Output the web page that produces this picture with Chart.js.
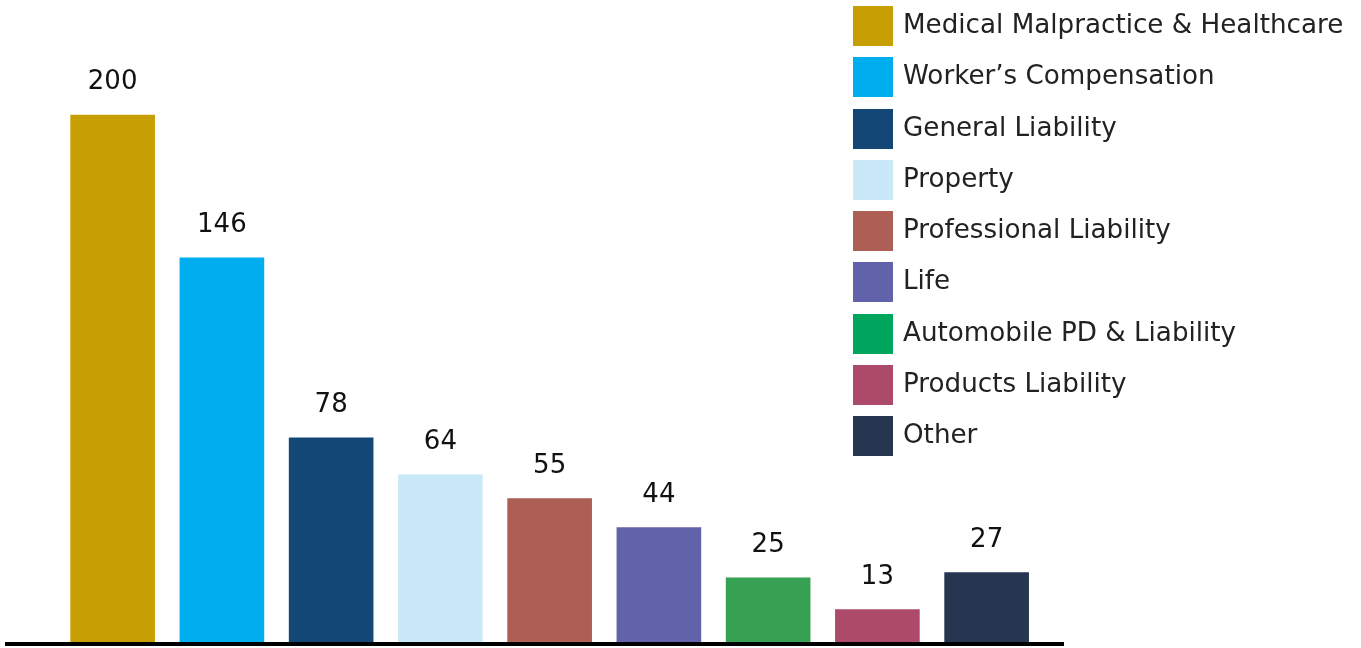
<!DOCTYPE html>
<html>
<head>
<meta charset="utf-8">
<script src="https://cdn.jsdelivr.net/npm/chart.js@4/dist/chart.umd.min.js"></script>
<style>
  html, body { margin: 0; padding: 0; background: #fff; }
  #wrap { position: relative; width: 1361px; height: 648px; }
  #legend {
    position: absolute; left: 853px; top: 6px;
    font-family: "DejaVu Sans", Verdana, sans-serif; font-size: 26.2px; color: #222;
  }
  .item { display: flex; align-items: center; height: 40px; margin-bottom: 11.3px; white-space: nowrap; }
  .box { width: 40px; height: 40px; margin-right: 10px; flex: none; }
  .txt { position: relative; top: -2px; }
</style>
</head>
<body>
<div id="wrap">
  <canvas id="chart" width="1361" height="648"></canvas>
  <div id="legend"></div>
</div>
<script>
const categories = [
  "Medical Malpractice & Healthcare",
  "Worker\u2019s Compensation",
  "General Liability",
  "Property",
  "Professional Liability",
  "Life",
  "Automobile PD & Liability",
  "Products Liability",
  "Other"
];
const values = [200, 146, 78, 64, 55, 44, 25, 13, 27];
const barColors = ["#c79f05", "#00aeef", "#134876", "#c9e8f8", "#ad5f55", "#6262ab", "#37a153", "#ad4a69", "#263550"];
const legendColors = ["#c79f05", "#00aeef", "#134876", "#c9e8f8", "#ad5f55", "#6262ab", "#00a55e", "#ad4a69", "#263550"];

// legend on the right, drawn as html over the canvas
const legend = document.getElementById("legend");
categories.forEach((name, i) => {
  const item = document.createElement("div");
  item.className = "item";
  item.innerHTML = `<span class="box" style="background:${legendColors[i]}"></span><span class="txt"></span>`;
  item.querySelector(".txt").textContent = name;
  legend.appendChild(item);
});

const valueLabels = {
  id: "valueLabels",
  afterDatasetsDraw(chart) {
    const ctx = chart.ctx;
    const meta = chart.getDatasetMeta(0);
    ctx.save();
    ctx.font = '26px "DejaVu Sans", Verdana, sans-serif';
    ctx.fillStyle = "#111";
    ctx.textAlign = "center";
    ctx.textBaseline = "alphabetic";
    meta.data.forEach((bar, i) => {
      ctx.fillText(String(values[i]), bar.x, bar.y - 26);
    });
    ctx.restore();
  }
};

const points = values.map((v, i) => ({ x: i, y: v }));

new Chart(document.getElementById("chart").getContext("2d"), {
  type: "bar",
  data: {
    datasets: [
      {
        data: points,
        backgroundColor: barColors,
        borderWidth: 0,
        barThickness: 84
      }
    ]
  },
  options: {
    responsive: false,
    animation: false,
    layout: { padding: { left: 7, right: 298, top: 0, bottom: 4 } },
    plugins: {
      legend: { display: false },
      tooltip: { enabled: false }
    },
    scales: {
      x: {
        type: "linear",
        offset: false,
        min: -0.967,
        max: 8.699,
        grid: { display: false, drawTicks: false },
        ticks: { display: false, stepSize: 1 },
        border: { display: true, color: "#000", width: 4, z: 1 }
      },
      y: {
        display: false,
        min: 0,
        max: 243.5
      }
    }
  },
  plugins: [valueLabels]
});
</script>
</body>
</html>
